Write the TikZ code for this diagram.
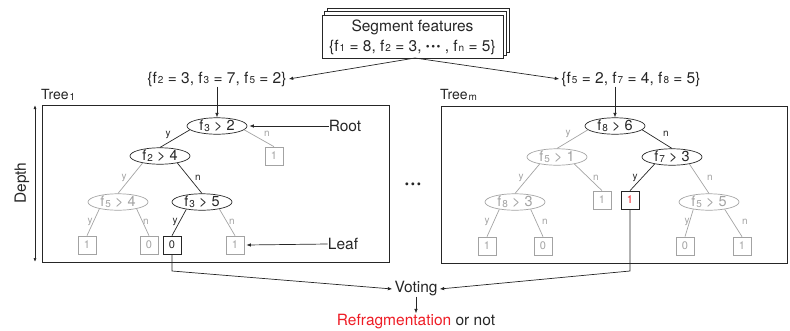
\documentclass[tikz,border=0pt]{standalone}
\usepackage{fontspec}
\setmainfont{TeX Gyre Heros}
\usetikzlibrary{shapes.geometric,arrows.meta}
\definecolor{ink}{HTML}{262626}
\definecolor{pale}{HTML}{A3A3A3}
\definecolor{redt}{HTML}{EE1C25}
\newcommand\fsub[1]{f\kern1pt\raisebox{-0.6pt}{\fontsize{10}{10}\selectfont #1}}
\newcommand\tsub[1]{\kern1pt\raisebox{-1pt}{\fontsize{10}{10}\selectfont #1}}
\newcommand\smalldots{{\fontsize{11}{11}\selectfont\raisebox{0.8pt}{\textbullet\kern1.5pt\textbullet\kern1.5pt\textbullet}}}
\tikzset{
  dec/.style={ellipse, draw=ink, text=ink, minimum width=60pt, minimum height=16pt, inner sep=0pt, line width=0.7pt, font=\fontsize{14.5}{16}\selectfont},
  decg/.style={dec, draw=pale, text=pale},
  lf/.style={rectangle, draw=ink, text=ink, minimum size=18pt, inner sep=0pt, line width=0.7pt, font=\fontsize{11}{11}\selectfont},
  lfg/.style={lf, draw=pale, text=pale},
  el/.style={inner sep=0pt, text=ink, font=\fontsize{10}{10}\selectfont},
  elg/.style={el, text=pale},
  blk/.style={draw=ink, line width=0.7pt},
  gry/.style={draw=pale, line width=0.7pt},
  arr/.style={draw=ink, line width=0.7pt, -{Latex[length=4.5pt,width=3.5pt]}},
  frame/.style={draw=ink, line width=0.8pt, inner sep=0pt},
  txt/.style={inner sep=0pt, text=ink}
}
\begin{document}
\begin{tikzpicture}[x=1pt,y=-1pt,font=\fontsize{15.5}{18}\selectfont]
\useasboundingbox (0,0) rectangle (790,330);
% stacked segment feature box
\node[frame, fill=white, minimum width=181pt, minimum height=43pt] (seg) at (412.5,36.5) {};
\draw[frame, fill=white] ([shift={(6,-6)}]seg.south west) rectangle ([shift={(6,-6)}]seg.north east);
\draw[frame, fill=white] ([shift={(3,-3)}]seg.south west) rectangle ([shift={(3,-3)}]seg.north east);
\node[frame, fill=white, minimum width=181pt, minimum height=43pt] (segf) at (412.5,36.5) {};
\node[txt] (segt) at (412.5,27) {Segment features};
\node[txt] (segv) at (412.5,47) {\{\fsub{1} = 8, \fsub{2} = 3, \smalldots\ , \fsub{n} = 5\}};
\coordinate (segb) at (415,58);
% subset labels
\node[txt] (lab1) at (217,79) {\{\fsub{2} = 3, \fsub{3} = 7, \fsub{5} = 2\}};
\node[txt] (labm) at (631,79) {\{\fsub{5} = 2, \fsub{7} = 4, \fsub{8} = 5\}};
\draw[arr] (segb) -- ([xshift=2pt]lab1.east);
\draw[arr] (segb) -- ([xshift=-2pt]labm.west);
% tree boxes
\node[frame, minimum width=347pt, minimum height=157pt] (box1) at (215.5,183.5) {};
\node[frame, minimum width=346pt, minimum height=157pt] (boxm) at (614,184.5) {};
\node[txt, anchor=west, font=\fontsize{14}{16}\selectfont] (t1) at (41,95) {Tree\tsub{1}};
\node[txt, anchor=west, font=\fontsize{14}{16}\selectfont] (tm) at (440,95) {Tree\tsub{m}};
% depth
\coordinate (d1) at (35,105);
\coordinate (d2) at (35,262);
\draw[draw=ink, line width=0.7pt, {Latex[length=4pt,width=3pt]}-{Latex[length=4pt,width=3pt]}] (d1) -- (d2);
\node[txt, rotate=90] (depth) at (22,183) {Depth};
% dots
\node[txt, font=\fontsize{12}{12}\selectfont] (dots) at (413,186) {\textbullet\kern1.8pt\textbullet\kern1.8pt\textbullet};
% ---------- tree 1
\node[dec] (r1) at (217,126) {\fsub{3} > 2};
\node[dec] (a1) at (160,156) {\fsub{2} > 4};
\node[lfg] (b1) at (274,156) {1};
\node[decg] (c1) at (118,202) {\fsub{5} > 4};
\node[dec] (e1) at (202,202) {\fsub{3} > 5};
\node[lfg] (l11) at (87,245) {1};
\node[lfg] (l12) at (149,245) {0};
\node[lf] (l13) at (172,245) {0};
\node[lfg] (l14) at (235,245) {1};
\draw[blk] (r1.188) -- (a1.north);
\draw[gry] (r1.-8) -- (b1.north);
\draw[gry] (a1.202) -- (c1.north);
\draw[blk] (a1.-22) -- (e1.north);
\draw[gry] (c1.200) -- (l11.north);
\draw[gry] (c1.-20) -- (l12.north);
\draw[blk] (e1.205) -- (l13.north);
\draw[gry] (e1.-22) -- (l14.north);
\node[el] (y11) at (168,135) {y};
\node[elg] (n11) at (267,134) {n};
\node[elg] (y12) at (124,178) {y};
\node[el] (n12) at (198,178) {n};
\node[elg] (y13) at (90,222) {y};
\node[elg] (n13) at (146,222) {n};
\node[el] (y14) at (175,222) {y};
\node[elg] (n14) at (232,222) {n};
\draw[arr] (r1 |- lab1.south) -- (r1.north);
% root / leaf callouts
\node[txt] (root) at (345,126) {Root};
\node[txt] (leaf) at (343,244) {Leaf};
\draw[arr] (root.west) -- ([xshift=2pt]r1.east);
\draw[arr] (leaf.west) -- ([xshift=2pt]l14.east);
% ---------- tree m
\node[dec] (rm) at (615,126) {\fsub{8} > 6};
\node[decg] (am) at (557,157) {\fsub{5} > 1};
\node[dec] (bm) at (672,157) {\fsub{7} > 3};
\node[decg] (cm) at (515,202) {\fsub{8} > 3};
\node[lfg] (dm) at (602,200) {1};
\node[lf] (em) at (630,200) {\textcolor{redt}{1}};
\node[decg] (fm) at (709,202) {\fsub{5} > 5};
\node[lfg] (lm1) at (487,246) {1};
\node[lfg] (lm2) at (543,246) {0};
\node[lfg] (lm3) at (685,246) {0};
\node[lfg] (lm4) at (742,246) {1};
\draw[gry] (rm.188) -- (am.north);
\draw[blk] (rm.-8) -- (bm.north);
\draw[gry] (am.202) -- (cm.north);
\draw[gry] (am.-22) -- (dm.north);
\draw[blk] (bm.202) -- (em.north);
\draw[gry] (bm.-22) -- (fm.north);
\draw[gry] (cm.205) -- (lm1.north);
\draw[gry] (cm.-25) -- (lm2.north);
\draw[gry] (fm.205) -- (lm3.north);
\draw[gry] (fm.-25) -- (lm4.north);
\node[elg] (ym1) at (568,134) {y};
\node[el] (nm1) at (666,134) {n};
\node[elg] (ym2) at (521,178) {y};
\node[elg] (nm2) at (596,178) {n};
\node[el] (ym3) at (635,178) {y};
\node[elg] (nm3) at (710,178) {n};
\node[elg] (ym4) at (487,222) {y};
\node[elg] (nm4) at (545,222) {n};
\node[elg] (ym5) at (687,222) {y};
\node[elg] (nm5) at (745,222) {n};
\draw[arr] (rm |- labm.south) -- (rm.north);
% ---------- voting
\node[txt] (vote) at (416,289) {Voting};
\node[txt] (res) at (416,322) {\textcolor{redt}{Refragmentation} or not};
\coordinate (k1) at (172,271);
\coordinate (km) at (630,271);
\draw[arr] (l13.south) -- (k1) -- ([xshift=-2pt]vote.west);
\draw[arr] (em.south) -- (km) -- ([xshift=2pt]vote.east);
\draw[arr] (vote.south) -- ([yshift=1pt]res.north);
\end{tikzpicture}
\end{document}
